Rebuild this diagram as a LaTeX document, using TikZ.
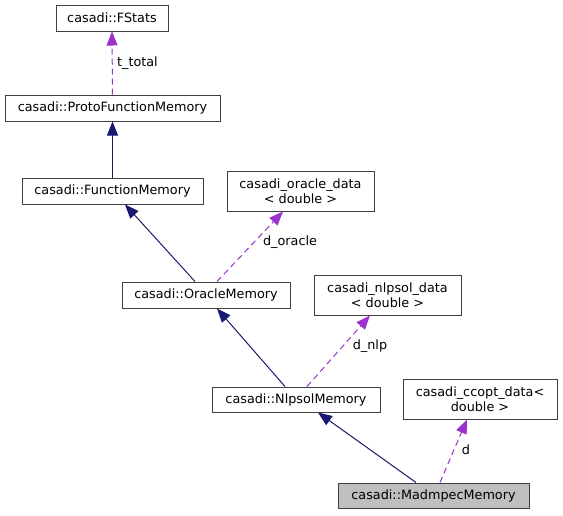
\documentclass[tikz,border=0pt]{standalone}
\usepackage{fontspec}
\setmainfont{DejaVu Sans}
\usepackage{xcolor}
\usepackage{tikz}
\usetikzlibrary{calc,arrows.meta}
\definecolor{boxline}{HTML}{404040}
\definecolor{shade}{HTML}{BFBFBF}
\definecolor{navy}{HTML}{191970}
\definecolor{orchid}{HTML}{9A32CD}
\tikzset{
  box/.style={draw=boxline, line width=1pt, fill=white, inner sep=0pt,
    minimum height=26pt, align=center, font=\fontsize{12.8}{14.7}\selectfont},
  tallbox/.style={box, minimum height=40pt},
  inh/.style={draw=navy, line width=1pt, -{Triangle[length=14pt, width=11pt]}},
  use/.style={draw=orchid, line width=1pt, dash pattern=on 6pt off 4pt,
    -{Triangle[length=14pt, width=11pt]}},
  elabel/.style={text=black, font=\fontsize{12.8}{14.7}\selectfont}
}
\begin{document}
\begin{tikzpicture}[x=1pt, y=-1pt]
  \useasboundingbox (0,0) rectangle (563,515);

  \node[box, minimum width=112pt] (fstats) at (112,18) {casadi::FStats};
  \node[box, minimum width=215pt] (protomem) at (112.5,108) {casadi::ProtoFunctionMemory};
  \node[box, minimum width=181pt] (funcmem) at (112.5,191) {casadi::FunctionMemory};
  \node[tallbox, minimum width=147pt] (oracledata) at (300.5,191) {casadi\_oracle\_data\\< double >};
  \node[box, minimum width=168pt] (oraclemem) at (206,295) {casadi::OracleMemory};
  \node[tallbox, minimum width=147pt] (nlpdata) at (387.5,295) {casadi\_nlpsol\_data\\< double >};
  \node[box, minimum width=168pt, minimum height=25pt] (nlpmem) at (296,399.5) {casadi::NlpsolMemory};
  \node[tallbox, minimum width=154pt] (ccoptdata) at (480,399) {casadi\_ccopt\_data<\\double >};
  \node[box, fill=shade, minimum width=191pt, minimum height=25pt] (madmem) at (433.5,495.5) {casadi::MadmpecMemory};

  % inheritance
  \draw[inh] (funcmem.north) -- (protomem.south);
  \draw[inh] ([xshift=-11pt]oraclemem.north) -- ([xshift=12.5pt]funcmem.south);
  \draw[inh] ([xshift=-11pt]nlpmem.north) -- ([xshift=11pt]oraclemem.south);
  \draw[inh] ([xshift=-17.5pt]madmem.north) -- ([xshift=22pt]nlpmem.south);

  % members
  \draw[use] (protomem.north) -- (fstats.south)
    node[elabel, pos=0.5, right=1pt] {t\_total};
  \draw[use] ([xshift=11pt]oraclemem.north) -- ([xshift=-17.5pt]oracledata.south);
  \node[elabel] (lbloracle) at (290,242) {d\_oracle};
  \draw[use] ([xshift=11pt]nlpmem.north) -- ([xshift=-17.5pt]nlpdata.south);
  \node[elabel] (lblnlp) at (370,346) {d\_nlp};
  \draw[use] ([xshift=6.5pt]madmem.north) -- ([xshift=-13pt]ccoptdata.south);
  \node[elabel] (lbld) at (466,450) {d};
\end{tikzpicture}
\end{document}
